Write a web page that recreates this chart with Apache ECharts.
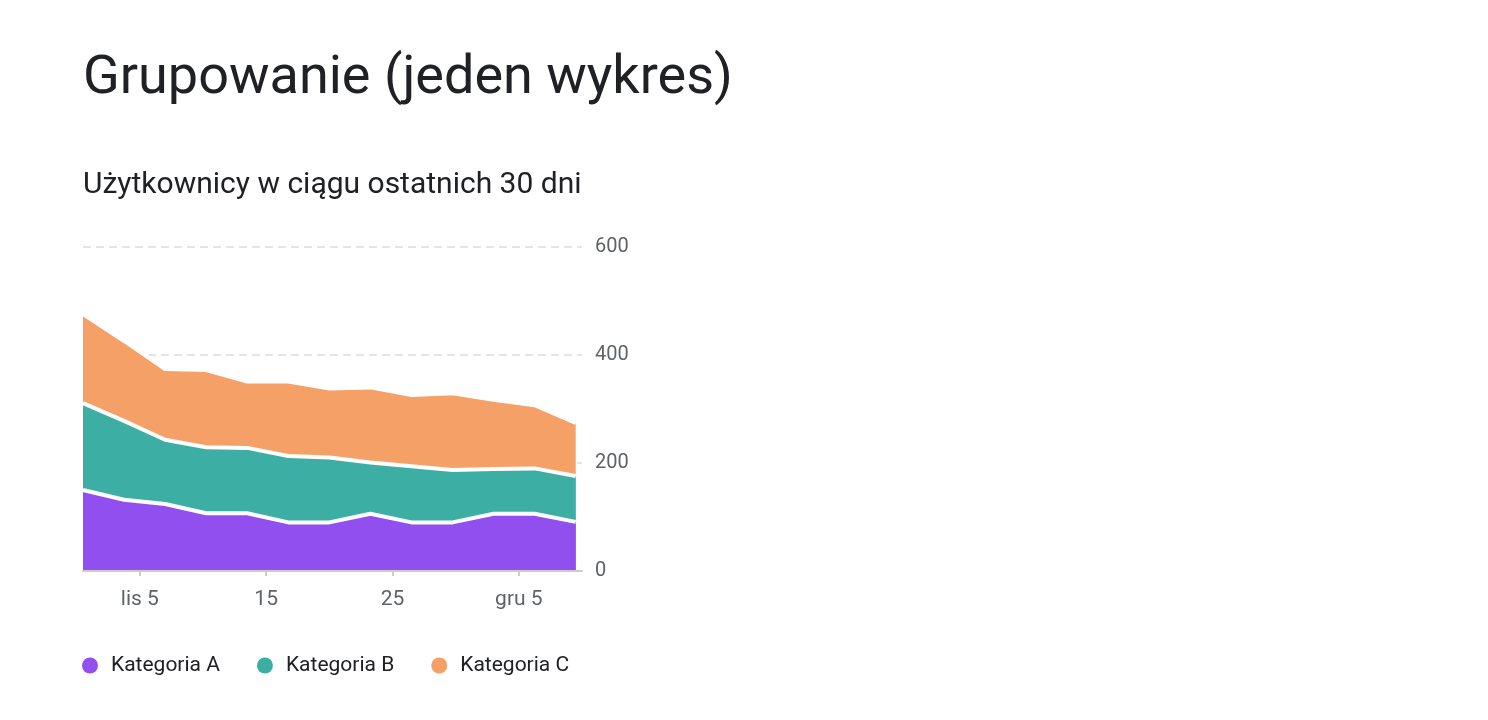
<!DOCTYPE html>
<html>
<head>
<meta charset="utf-8">
<script src="https://cdn.jsdelivr.net/npm/echarts@6/dist/echarts.min.js"></script>
<style>
html,body{margin:0;padding:0;background:#fff;}
#chart{width:1488px;height:720px;}
</style>
</head>
<body>
<div id="chart"></div>
<script>
const titleText = 'Grupowanie (jeden wykres)';
const subtitleText = 'Użytkownicy w ciągu ostatnich 30 dni';
const seriesNames = ['Kategoria A', 'Kategoria B', 'Kategoria C'];
const dates = ['2023-10-31T12:00','2023-11-03T18:00','2023-11-07T00:00','2023-11-10T06:00','2023-11-13T12:00','2023-11-16T18:00','2023-11-20T00:00','2023-11-23T06:00','2023-11-26T12:00','2023-11-29T18:00','2023-12-03T00:00','2023-12-06T06:00','2023-12-09T12:00'];
const valuesA = [150,132,124,107,107,90,90,106,90,90,106,106,91];
const valuesB = [161,146,119,122,121,123,120,95,104,97,83,84,85];
const valuesC = [165,148,131,143,123,138,128,139,132,142,128,117,98];
const xTickDates = ['2023-11-05T00:00','2023-11-15T00:00','2023-11-25T00:00','2023-12-05T00:00'];
const xTickLabels = ['lis 5','15','25','gru 5'];
const xMin = '2023-10-31T12:00';
const xMax = '2023-12-10T00:00';
const yTicks = [0,200,400,600];
const colors = ['#914ff0','#3daea3','#f4a066'];

// dates -> day numbers (UTC based, so no DST effects)
const dayNum = s => Date.parse(s + 'Z') / 86400000;
const tickDays = xTickDates.map(dayNum);
const allValues = [valuesA, valuesB, valuesC];
const labelFor = v => { for (let i = 0; i < tickDays.length; i++) { if (Math.abs(tickDays[i] - v) < 1e-6) return xTickLabels[i]; } return ''; };

// stacked totals (each area filled from zero, lower categories drawn in front)
const cumulative = allValues.map((vals, k) => vals.map((_, i) => allValues.slice(0, k + 1).reduce((s, arr) => s + arr[i], 0)));

const chart = echarts.init(document.getElementById('chart'));
chart.setOption({
  animation: false,
  textStyle: {fontFamily: 'Roboto'},
  title: [
    {text: titleText, left: 78, top: 47, textStyle: {fontSize: 54, fontWeight: 'normal', color: '#202124', fontFamily: 'Roboto'}},
    {text: subtitleText, left: 78, top: 165, textStyle: {fontSize: 30, fontWeight: 'normal', color: '#202124', fontFamily: 'Roboto'}}
  ],
  legend: {
    left: 77, top: 650, icon: 'circle', itemWidth: 16, itemHeight: 16, itemGap: 37,
    textStyle: {fontSize: 21, color: '#202124', padding: [0,0,0,8], fontFamily: 'Roboto'},
    itemStyle: {borderWidth: 0},
    data: seriesNames
  },
  grid: {left: 83, right: 906, top: 247, bottom: 149, containLabel: false},
  xAxis: {
    type: 'value', min: dayNum(xMin), max: dayNum(xMax), z: 20,
    axisLine: {lineStyle: {color: '#cccccc', width: 2}},
    axisTick: {show: true, customValues: tickDays, length: 5, lineStyle: {color: '#cccccc', width: 2}},
    axisLabel: {customValues: tickDays, formatter: labelFor, color: '#5f6368', fontSize: 21, margin: 18, fontFamily: 'Roboto'},
    splitLine: {show: false}
  },
  yAxis: {
    type: 'value', position: 'right', min: yTicks[0], max: yTicks[yTicks.length-1], interval: yTicks[1]-yTicks[0],
    axisLine: {show: false}, axisTick: {show: false},
    axisLabel: {color: '#5f6368', fontSize: 20, margin: 13, padding: [5,0,0,0], fontFamily: 'Roboto'},
    splitLine: {lineStyle: {color: '#dddddd', width: 1.5, type: [8,5]}}
  },
  series: cumulative.map((vals, k) => ({
    name: seriesNames[k], type: 'line', symbol: 'none', z: 10 - k,
    data: vals.map((v, i) => [dayNum(dates[i]), v]),
    itemStyle: {color: colors[k]},
    lineStyle: {color: '#ffffff', width: 4},
    areaStyle: {color: colors[k], opacity: 1, origin: 'start'}
  }))
});
</script>
</body>
</html>
